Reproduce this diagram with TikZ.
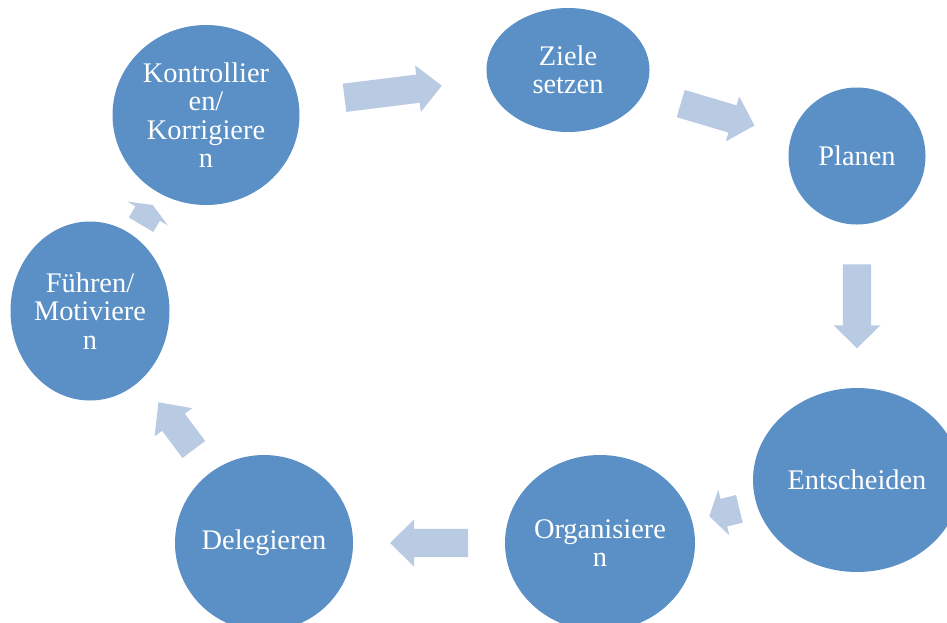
\documentclass[tikz,border=0pt]{standalone}
\usepackage{fontspec}
\setmainfont{Liberation Serif}
\usetikzlibrary{shapes.geometric}
\definecolor{cycleblue}{RGB}{91,144,198}
\definecolor{arrowblue}{RGB}{185,203,227}
\tikzset{
	phase/.style = {ellipse, fill=cycleblue, text=white, inner sep=0pt, align=center,
	 font=\fontsize{28.4}{28.4}\selectfont}}
\tikzset{
	flowlen/.store in=\flowlen, flowhead/.store in=\flowhead,
	flowlen=80, flowhead=23.5,
	flow/.pic = {
	 \fill [arrowblue] (-\flowlen/2,-14.2) -- (\flowlen/2-\flowhead,-14.2)
	  -- (\flowlen/2-\flowhead,-23.5) -- (\flowlen/2,0) -- (\flowlen/2-\flowhead,23.5)
	  -- (\flowlen/2-\flowhead,14.2) -- (-\flowlen/2,14.2) -- cycle;
	 }
	}
\begin{document}
\begin{tikzpicture}[x=1pt, y=-1pt]
\useasboundingbox (0,0) rectangle (947,622);

% NODES
\node (kon) [phase, minimum width=187, minimum height=180] at (206,115) {Kontrollier\\en/\\Korrigiere\\n};
\node (ziel) [phase, minimum width=163, minimum height=124] at (568,70) {Ziele\\setzen};
\node (plan) [phase, minimum width=137, minimum height=137] at (857,156) {Planen};
\node (ent) [phase, minimum width=208, minimum height=184] at (857,480) {Entscheiden};
\node (org) [phase, minimum width=190, minimum height=176] at (600,543) {Organisiere\\n};
\node (del) [phase, minimum width=178, minimum height=176] at (264,543) {Delegieren};
\node (fuehr) [phase, minimum width=159, minimum height=179] at (90,311) {Führen/\\Motiviere\\n};

% ARROWS
\path (kon) -- pic [midway, sloped, allow upside down, flowlen=98, flowhead=24] {flow} (ziel);
\path (ziel) -- pic [midway, sloped, allow upside down, flowlen=77, flowhead=23] {flow} (plan);
\path (plan) -- pic [midway, sloped, allow upside down, flowlen=84, flowhead=23] {flow} (ent);
\path (ent) -- pic [midway, sloped, allow upside down, flowlen=31, flowhead=15] {flow} (org);
\path (org) -- pic [midway, sloped, allow upside down, flowlen=78, flowhead=24] {flow} (del);
\path (del) -- pic [midway, sloped, allow upside down, flowlen=59, flowhead=25] {flow} (fuehr);
\path (fuehr) -- pic [midway, sloped, allow upside down, flowlen=23, flowhead=10] {flow} (kon);

\end{tikzpicture}
\end{document}
